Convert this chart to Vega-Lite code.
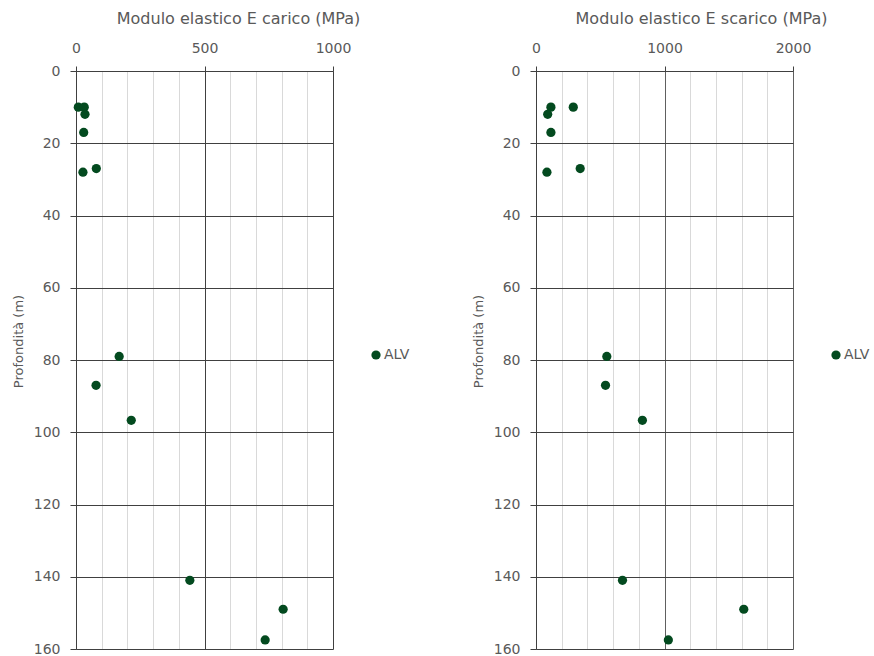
{
  "$schema": "https://vega.github.io/schema/vega-lite/v6.json",
  "background": "white",
  "padding": {"left": 12, "top": 10, "right": 5, "bottom": 5},
  "config": {
    "font": "DejaVu Sans",
    "view": {"stroke": null},
    "axis": {
      "labelColor": "#595959", "titleColor": "#595959",
      "labelFontSize": 14, "titleFontSize": 16, "titleFontWeight": "normal",
      "domainColor": "#404040", "tickColor": "#404040", "labelFlush": false, "labelOverlap": false
    },
    "legend": {"labelColor": "#595959", "labelFontSize": 14}
  },
  "datasets": {
    "carico": [
      {"depth": 10, "E": 9, "serie": "ALV"},
      {"depth": 10, "E": 32, "serie": "ALV"},
      {"depth": 12, "E": 35, "serie": "ALV"},
      {"depth": 17, "E": 30, "serie": "ALV"},
      {"depth": 27, "E": 79, "serie": "ALV"},
      {"depth": 28, "E": 27, "serie": "ALV"},
      {"depth": 79, "E": 168, "serie": "ALV"},
      {"depth": 87, "E": 78, "serie": "ALV"},
      {"depth": 96.7, "E": 215, "serie": "ALV"},
      {"depth": 141, "E": 443, "serie": "ALV"},
      {"depth": 149, "E": 806, "serie": "ALV"},
      {"depth": 157.5, "E": 736, "serie": "ALV"}
    ],
    "scarico": [
      {"depth": 10, "E": 116, "serie": "ALV"},
      {"depth": 10, "E": 290, "serie": "ALV"},
      {"depth": 12, "E": 91, "serie": "ALV"},
      {"depth": 17, "E": 116, "serie": "ALV"},
      {"depth": 27, "E": 344, "serie": "ALV"},
      {"depth": 28, "E": 85, "serie": "ALV"},
      {"depth": 79, "E": 551, "serie": "ALV"},
      {"depth": 87, "E": 541, "serie": "ALV"},
      {"depth": 96.7, "E": 828, "serie": "ALV"},
      {"depth": 141, "E": 673, "serie": "ALV"},
      {"depth": 149, "E": 1617, "serie": "ALV"},
      {"depth": 157.5, "E": 1030, "serie": "ALV"}
    ]
  },
  "bounds": "flush",
  "spacing": 203,
  "resolve": {"legend": {"color": "independent"}, "scale": {"x": "independent", "color": "independent"}},
  "hconcat": [
    {
      "width": 257, "height": 578,
      "data": {"name": "carico"},
      "mark": {"type": "point", "filled": true, "opacity": 1, "size": 85},
      "encoding": {
        "x": {
          "field": "E", "type": "quantitative",
          "scale": {"domain": [0, 1000], "nice": false},
          "axis": {
            "orient": "top", "title": "Modulo elastico E carico (MPa)",
            "values": [0, 100, 200, 300, 400, 500, 600, 700, 800, 900, 1000],
            "labelExpr": "datum.value % 500 === 0 ? datum.label : ''",
            "format": "d",
            "gridColor": {"condition": {"test": "datum.value % 500 === 0", "value": "#404040"}, "value": "#d9d9d9"},
            "gridWidth": 1,
            "tickOpacity": {"condition": {"test": "datum.value % 500 === 0", "value": 1}, "value": 0},
            "tickSize": 5, "labelPadding": 11, "titlePadding": 15,
            "titleX": 162, "titleAlign": "center"
          }
        },
        "y": {
          "field": "depth", "type": "quantitative",
          "scale": {"domain": [0, 160], "reverse": true, "nice": false},
          "axis": {
            "title": "Profondità (m)", "titleFontSize": 13,
            "values": [0, 20, 40, 60, 80, 100, 120, 140, 160],
            "gridColor": "#404040", "tickSize": 6, "labelPadding": 10,
            "titleY": 270, "titleAlign": "center", "titlePadding": 8
          }
        },
        "color": {
          "field": "serie", "type": "nominal",
          "scale": {"range": ["#034a1f"]},
          "legend": {"title": null, "orient": "none", "legendX": 293, "legendY": 277, "symbolSize": 85, "symbolType": "circle", "labelOffset": 1}
        }
      }
    },
    {
      "width": 257, "height": 578,
      "data": {"name": "scarico"},
      "mark": {"type": "point", "filled": true, "opacity": 1, "size": 85},
      "encoding": {
        "x": {
          "field": "E", "type": "quantitative",
          "scale": {"domain": [0, 2000], "nice": false},
          "axis": {
            "orient": "top", "title": "Modulo elastico E scarico (MPa)",
            "values": [0, 200, 400, 600, 800, 1000, 1200, 1400, 1600, 1800, 2000],
            "labelExpr": "datum.value % 1000 === 0 ? datum.label : ''",
            "format": "d",
            "gridColor": {"condition": {"test": "datum.value % 1000 === 0", "value": "#606060"}, "value": "#d9d9d9"},
            "gridWidth": 1,
            "tickOpacity": {"condition": {"test": "datum.value % 1000 === 0", "value": 1}, "value": 0},
            "tickSize": 5, "labelPadding": 11, "titlePadding": 15,
            "titleX": 165, "titleAlign": "center"
          }
        },
        "y": {
          "field": "depth", "type": "quantitative",
          "scale": {"domain": [0, 160], "reverse": true, "nice": false},
          "axis": {
            "title": "Profondità (m)", "titleFontSize": 13,
            "values": [0, 20, 40, 60, 80, 100, 120, 140, 160],
            "gridColor": "#404040", "tickSize": 6, "labelPadding": 10,
            "titleY": 270, "titleAlign": "center", "titlePadding": 8
          }
        },
        "color": {
          "field": "serie", "type": "nominal",
          "scale": {"range": ["#034a1f"]},
          "legend": {"title": null, "orient": "none", "legendX": 293, "legendY": 277, "symbolSize": 85, "symbolType": "circle", "labelOffset": 1}
        }
      }
    }
  ]
}
